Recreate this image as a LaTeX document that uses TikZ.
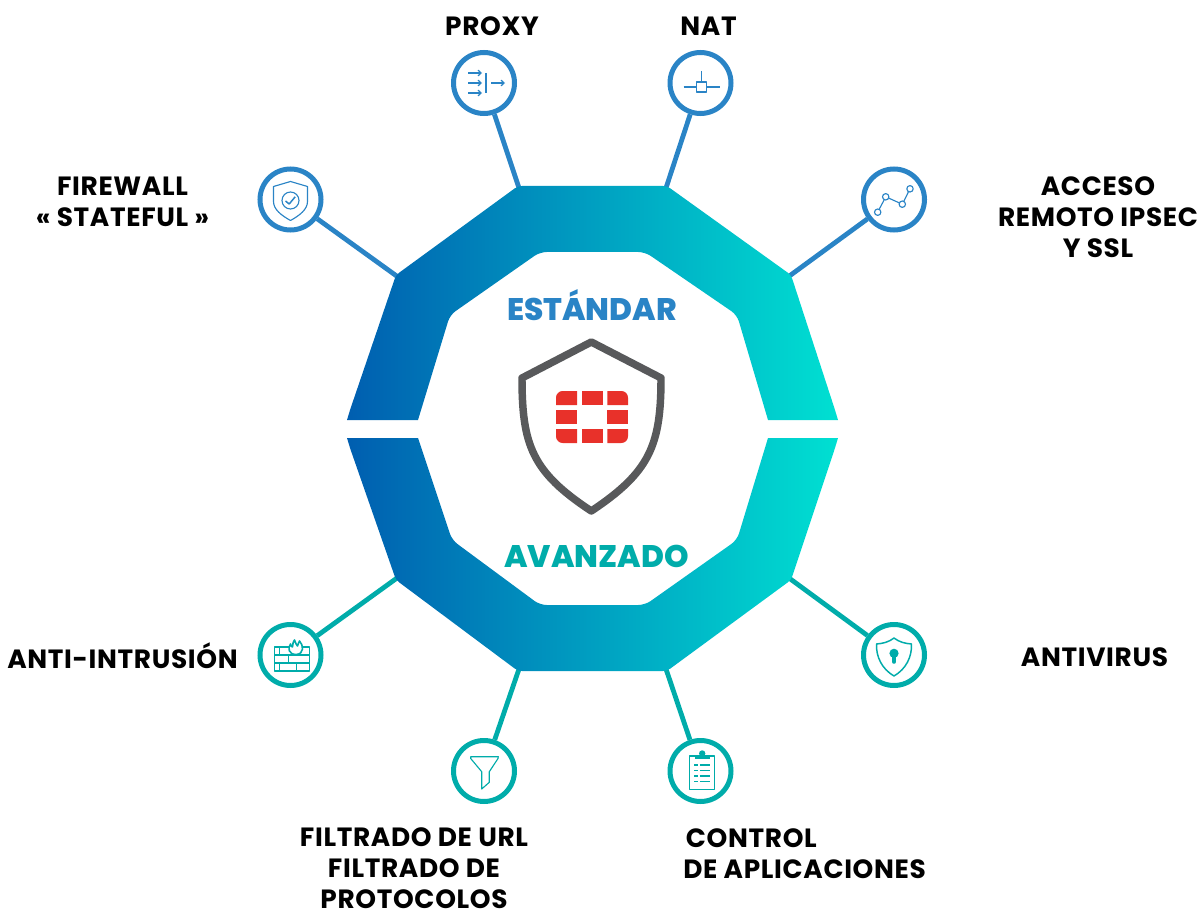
\documentclass[tikz,border=0pt]{standalone}
\usepackage{xcolor}
\usepackage{fontspec}
\setmainfont{Poppins}[LetterSpace=2.5]
\newfontfamily\heavyfont{Poppins ExtraBold}
\usepackage{tikz}
\usetikzlibrary{arrows.meta, positioning}
\definecolor{ftblue}{RGB}{42, 132, 198}
\definecolor{ftteal}{RGB}{0, 172, 170}
\definecolor{ftdeep}{RGB}{0, 94, 176}
\definecolor{ftaqua}{RGB}{0, 224, 210}
\definecolor{ftgray}{RGB}{88, 89, 91}
\definecolor{ftred}{RGB}{232, 49, 42}
\tikzset{
  badgeblue/.style={circle, draw=ftblue, fill=white, line width=3.75pt, minimum size=45.75pt, inner sep=0pt},
  badgeteal/.style={circle, draw=ftteal, fill=white, line width=3.75pt, minimum size=45.75pt, inner sep=0pt},
  linkblue/.style={draw=ftblue, line width=3.6pt},
  linkteal/.style={draw=ftteal, line width=3.6pt},
  glyph/.style={line width=0.85pt, line join=round},
  caption/.style={font=\fontsize{19.8pt}{23.2pt}\selectfont\bfseries, text=black, align=center, inner sep=0pt},
  title/.style={font=\fontsize{23.4pt}{26pt}\selectfont\heavyfont, inner sep=0pt},
  block/.style={fill=ftred}
}

\begin{document}
\begin{tikzpicture}[x=0.75pt, y=-0.75pt, >={Straight Barb[length=2.4pt,width=4.4pt]}]
\useasboundingbox (0,0) rectangle (1203,909);

% Badges around the ring
\node[badgeblue] (proxy) at (484,83) {};
\node[badgeblue] (nat) at (700.5,83) {};
\node[badgeblue] (firewall) at (290.5,199.5) {};
\node[badgeblue] (acceso) at (894,199.5) {};
\node[badgeteal] (intrusion) at (290.5,655) {};
\node[badgeteal] (antivirus) at (894,655) {};
\node[badgeteal] (filtrado) at (484,771) {};
\node[badgeteal] (control) at (700.5,771) {};

% Ring corners the links end on
\coordinate (cproxy) at (519,188);
\coordinate (cnat) at (666,188);
\coordinate (cfirewall) at (398,277);
\coordinate (cacceso) at (788,277);
\coordinate (cintrusion) at (397,578);
\coordinate (cantivirus) at (789,578);
\coordinate (cfiltrado) at (519,669);
\coordinate (ccontrol) at (666,669);

\draw[linkblue] (proxy) -- (cproxy);
\draw[linkblue] (nat) -- (cnat);
\draw[linkblue] (firewall) -- (cfirewall);
\draw[linkblue] (acceso) -- (cacceso);
\draw[linkteal] (intrusion) -- (cintrusion);
\draw[linkteal] (antivirus) -- (cantivirus);
\draw[linkteal] (filtrado) -- (cfiltrado);
\draw[linkteal] (control) -- (ccontrol);

% Upper and lower half of the ring
\shade[left color=ftdeep, right color=ftaqua]
  (347,420) [rounded corners=3pt] -- (350,410) -- (396,275) -- (518,186) -- (667,186) -- (791,275) -- (835,410)
  [sharp corners] -- (838,420) -- (768,420)
  [rounded corners=5pt] -- (737,315) -- (645,252) -- (540,252) -- (450,315)
  [sharp corners] -- (418,420) -- cycle;
\shade[left color=ftdeep, right color=ftaqua]
  (347,438) [rounded corners=3pt] -- (350,448) -- (396,580) -- (518,671) -- (667,671) -- (791,580) -- (835,448)
  [sharp corners] -- (838,438) -- (768,438)
  [rounded corners=5pt] -- (737,540) -- (645,605) -- (540,605) -- (452,540)
  [sharp corners] -- (418,438) -- cycle;

\node[title, text=ftblue] (standard) at (592,305.5) {ESTÁNDAR};
\node[title, text=ftteal] (advanced) at (596.5,556) {AVANZADO};

% Shield with the logo
\draw[draw=ftgray, line width=5.6pt, line join=round]
  (591.3,342) -- (522,378) .. controls (522,445) and (532,472) .. (591.3,511)
  .. controls (650,472) and (661,445) .. (661,378) -- cycle;
\fill[block] (556,405) [rounded corners=5pt] -- (556,391) [sharp corners] -- (577,391) -- (577,405) -- cycle;
\fill[block] (582,391) rectangle (603,405);
\fill[block] (607.3,391) [rounded corners=5pt] -- (628,391) [sharp corners] -- (628,405) -- (607.3,405) -- cycle;
\fill[block] (556,410) rectangle (577,424);
\fill[block] (607.3,410) rectangle (628,424);
\fill[block] (577,429) -- (556,429) [rounded corners=5pt] -- (556,443) [sharp corners] -- (577,443) -- cycle;
\fill[block] (582,429) rectangle (603,443);
\fill[block] (628,429) [rounded corners=5pt] -- (628,443) [sharp corners] -- (607.3,443) -- (607.3,429) -- cycle;

% Proxy glyph
\begin{scope}[shift={(484,83)}, glyph, draw=ftblue]
\draw[->] (-16,-10) -- (-2,-10);
\draw[->] (-16,0) -- (-2,0);
\draw[->] (-16,10) -- (-2,10);
\draw (2,-10) -- (2,10);
\draw[->] (7,0) -- (21,0);
\end{scope}

% NAT glyph
\begin{scope}[shift={(700.5,83)}, glyph, draw=ftblue]
\draw (-4,-1) rectangle (6,9);
\draw (1,-12) -- (1,-1);
\draw (-17,4) -- (-4,4);
\draw (6,4) -- (19,4);
\end{scope}

% Firewall glyph
\begin{scope}[shift={(290.5,199.5)}, glyph, draw=ftblue]
\draw (0,-18) -- (17,-13) -- (17,2) .. controls (17,10) and (9,16) .. (0,21)
  .. controls (-9,16) and (-17,10) .. (-17,2) -- (-17,-13) -- cycle;
\draw (0,1) circle (8.5);
\draw[line width=1.1pt] (-5,1.5) -- (-1.3,4.5) -- (4.7,-2.7);
\end{scope}

% Remote access glyph
\begin{scope}[shift={(894,199.5)}, glyph, draw=ftblue]
\draw (-16.3,12.7) circle (3.2);
\draw (-8.3,-2.7) circle (3.2);
\draw (8.3,4.7) circle (3.2);
\draw (16,-10.7) circle (3.2);
\draw (-14.8,9.7) -- (-9.8,0.3);
\draw (-5.3,-1.4) -- (5.3,3.4);
\draw (9.8,1.8) -- (14.5,-7.8);
\end{scope}

% Intrusion glyph
\begin{scope}[shift={(290.5,655)}, draw=ftteal, line width=1.2pt, line join=round]
\draw (-16,-8) rectangle (19,16);
\draw (-16,0) -- (19,0);
\draw (-16,8) -- (19,8);
\draw (-11,-8) -- (-11,0);
\draw (-2,0) -- (-2,8);
\draw (-11,8) -- (-11,16);
\draw (6,8) -- (6,16);
\draw (6,-8) -- (6,0);
\draw[fill=white] (5.7,-0.5) .. controls (-2,-0.5) and (-3,-7) .. (0,-11) .. controls (1,-9) and (1,-8) .. (2,-8)
  .. controls (2,-11) and (3,-14) .. (4,-15) .. controls (5,-12) and (6,-10) .. (7,-9)
  .. controls (8,-11) and (8,-13) .. (9,-14) .. controls (13,-10) and (14,-1) .. (5.7,-0.5) -- cycle;
\end{scope}

% Antivirus glyph
\begin{scope}[shift={(894,655)}, glyph, draw=ftteal, fill=ftteal]
\draw[line width=1.1pt, fill=none] (0,-17) .. controls (5,-13) and (11,-11.5) .. (17.5,-11) .. controls (18,2) and (12,14) .. (0,21)
  .. controls (-12,14) and (-18,2) .. (-17.5,-11) .. controls (-11,-11.5) and (-5,-13) .. (0,-17) -- cycle;
\fill (0,-1.7) circle (4.6);
\draw[line width=3pt, line cap=round] (0,-1.7) -- (0,6.8);
\end{scope}

% Filter glyph
\begin{scope}[shift={(484,771)}, glyph, draw=ftteal]
\draw (-13.3,-14.3) -- (14.3,-14.3) -- (14,-12.5) -- (5.3,0.7) -- (5.3,11.3) -- (-2.3,18) -- (-2.3,0.7) -- (-13.3,-12.5) -- cycle;
\end{scope}

% Application control glyph
\begin{scope}[shift={(700.5,771)}, glyph, draw=ftteal, fill=ftteal]
\draw[fill=none] (-11.3,-15) rectangle (14.3,18.3);
\fill (-5.5,-16.5) rectangle (9,-12);
\fill (1.7,-17.5) circle (3.2);
\foreach \rowy in {-6,-0.3,5,10.7} {
  \draw (-6.3,\rowy) -- (-3,\rowy);
  \draw (-0.7,\rowy) -- (9.3,\rowy);
}
\end{scope}

% Labels
\node[caption] (lproxy) at (492,26) {PROXY};
\node[caption] (lnat) at (708.5,26) {NAT};
\node[caption] (lfirewall) at (122.5,201.5) {FIREWALL\\« STATEFUL »};
\node[caption] (lacceso) at (1098,217) {ACCESO\\REMOTO IPSEC\\Y SSL};
\node[caption] (lintrusion) at (122.5,656) {ANTI-INTRUSIÓN};
\node[caption] (lantivirus) at (1094.5,657) {ANTIVIRUS};
\node[caption] (lfiltrado) at (414,868) {FILTRADO DE URL\\FILTRADO DE\\PROTOCOLOS};
\node[caption, align=left, anchor=west] (lcontrol) at (683,854) {\hspace{2pt}CONTROL\\DE APLICACIONES};
\end{tikzpicture}
\end{document}
